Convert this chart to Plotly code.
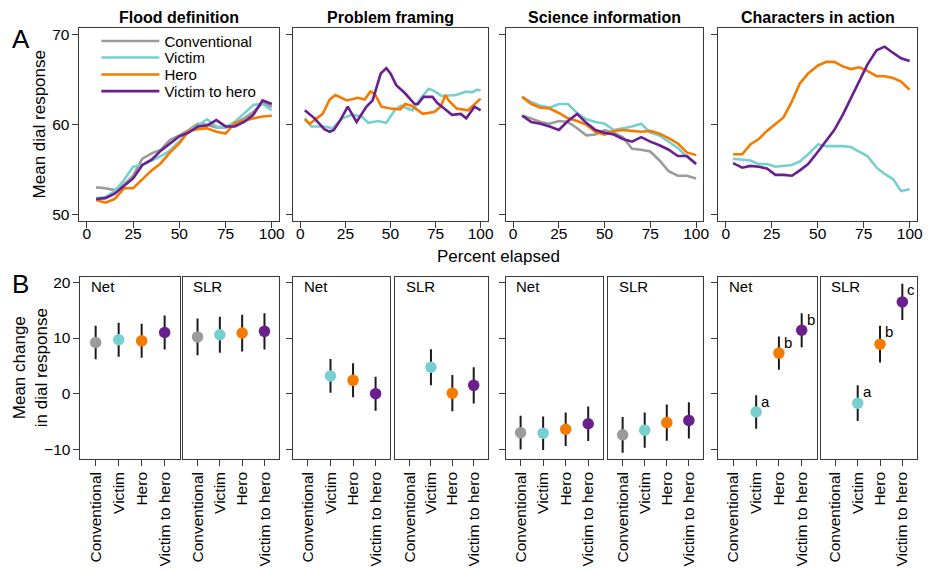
import plotly.graph_objects as go

W, H = 932, 571
FONT = "Liberation Sans, Arial, sans-serif"

series_names = ["Conventional", "Victim", "Hero", "Victim to hero"]
colors = ["#9b9b9b", "#77cfcf", "#f47b00", "#6a1f8e"]

panel_titles = ["Flood definition", "Problem framing", "Science information", "Characters in action"]

# ---- Panel A data (mean dial response vs percent elapsed) ----
fd_x = [5, 10, 15, 20, 25, 30, 35, 40, 45, 50, 55, 60, 65, 70, 75, 80, 85, 90, 95, 100]
fd_conv = [53.0, 52.9, 52.7, 53.3, 54.3, 56.2, 56.8, 57.2, 58.3, 58.8, 59.4, 60.1, 60.0, 59.7, 59.7, 60.1, 60.7, 61.4, 62.4, 62.0]
fd_victim = [51.8, 51.9, 52.6, 53.8, 55.3, 55.5, 56.0, 56.5, 57.1, 58.1, 59.2, 59.9, 60.6, 59.8, 59.7, 60.3, 61.2, 62.2, 62.3, 61.6]
fd_hero = [51.6, 51.3, 51.7, 52.9, 52.9, 53.9, 54.9, 55.7, 56.9, 57.9, 59.3, 59.5, 59.6, 59.2, 59.0, 60.2, 60.4, 60.7, 60.9, 61.0]
fd_vth = [51.7, 51.8, 52.3, 53.1, 54.0, 55.5, 56.1, 57.1, 57.9, 58.7, 59.1, 59.8, 59.9, 60.5, 59.8, 59.8, 60.3, 61.1, 62.7, 62.3]

pf_victim_x = [2.5, 6.1, 13.3, 17.9, 23.3, 28.7, 34.1, 37.7, 43.1, 47.7, 52.3, 55.9, 62.2, 66.7, 71.2, 73.9, 78.4, 86.5, 91.9, 95.2, 98.2, 100]
pf_victim = [60.7, 59.8, 59.8, 59.6, 60.7, 61.1, 60.9, 60.2, 60.4, 60.2, 61.6, 62.1, 61.6, 62.9, 64.0, 63.8, 63.2, 63.3, 63.7, 63.6, 63.9, 63.8]
pf_hero_x = [2.5, 5.2, 12.4, 16.3, 19.5, 25.8, 32, 35.7, 38.9, 41.4, 45, 50, 55.4, 58.1, 61.7, 67.9, 74.2, 77.8, 80.5, 82.2, 86.7, 93, 100]
pf_hero = [60.6, 60.1, 61.2, 62.8, 63.3, 62.7, 63.0, 62.8, 63.7, 63.4, 62.0, 61.8, 61.7, 62.3, 62.1, 61.2, 61.4, 62.0, 63.3, 62.7, 61.8, 61.6, 62.9]
pf_vth_x = [2.5, 7.9, 13.3, 16.3, 18.6, 22.2, 26.3, 31.2, 36.6, 40.1, 44.6, 47.7, 50, 53.2, 58.1, 63.4, 65.2, 68.3, 73.3, 76, 80.5, 84.1, 89, 92, 96.6, 100]
pf_vth = [61.6, 60.7, 59.5, 59.2, 59.4, 60.5, 62.0, 60.3, 62.0, 62.7, 65.7, 66.3, 65.7, 64.4, 63.5, 62.3, 62.3, 63.1, 63.1, 62.4, 61.7, 61.1, 61.2, 60.7, 62.0, 61.6]

si_x = [5, 10, 15, 20, 25, 30, 35, 40, 45, 50, 55, 60, 65, 70, 75, 80, 85, 90, 95, 100]
si_conv = [61.0, 60.7, 60.3, 60.1, 60.4, 60.3, 59.6, 58.8, 58.9, 59.4, 59.1, 58.6, 57.3, 57.2, 57.0, 56.0, 54.8, 54.3, 54.3, 54.0]
si_victim = [63.1, 62.5, 62.1, 61.9, 62.3, 62.3, 61.3, 60.6, 60.3, 60.1, 59.4, 59.6, 59.8, 60.1, 59.1, 58.8, 58.1, 57.4, 56.4, 55.6]
si_hero = [63.1, 62.3, 61.9, 61.8, 61.3, 60.7, 60.4, 60.0, 59.2, 58.9, 59.3, 59.4, 59.3, 59.2, 59.3, 59.0, 58.5, 57.9, 56.9, 56.6]
si_vth = [61.0, 60.3, 60.1, 59.8, 59.4, 60.4, 61.2, 60.2, 59.4, 59.1, 58.9, 58.4, 58.1, 58.6, 58.1, 57.7, 57.2, 56.5, 56.5, 55.6]

ca_x = [4, 9, 13.4, 18, 22.4, 27, 31.4, 36, 40.3, 44.8, 50.2, 54.7, 59, 63.6, 68, 72.6, 77, 82, 86.4, 91, 95.3, 100]
ca_victim = [56.2, 56.1, 56.0, 55.6, 55.6, 55.3, 55.4, 55.5, 55.9, 56.7, 57.8, 57.6, 57.6, 57.6, 57.5, 57.0, 56.5, 55.2, 54.5, 53.9, 52.6, 52.8]
ca_hero = [56.7, 56.7, 57.8, 58.4, 59.3, 60.1, 60.8, 62.6, 64.6, 65.7, 66.6, 67.0, 67.0, 66.5, 66.2, 66.4, 66.0, 65.4, 65.4, 65.2, 64.8, 63.9]
ca_vth = [55.7, 55.2, 55.4, 55.3, 55.1, 54.4, 54.4, 54.3, 54.9, 55.6, 57.0, 58.3, 59.4, 61.1, 63.0, 64.8, 66.7, 68.3, 68.7, 68.0, 67.4, 67.1]

# ---- Panel B data (mean change in dial response, +/- interval) ----
fd_net_mean = [9.2, 9.7, 9.5, 11.0]
fd_net_ci = [3.0, 3.05, 3.05, 3.05]
fd_slr_mean = [10.2, 10.6, 10.9, 11.2]
fd_slr_ci = [3.3, 3.25, 3.3, 3.25]
pf_net_mean = [None, 3.2, 2.4, 0.0]
pf_net_ci = [0, 3.05, 3.05, 3.05]
pf_slr_mean = [None, 4.75, 0.1, 1.5]
pf_slr_ci = [0, 3.25, 3.25, 3.25]
si_net_mean = [-7.0, -7.1, -6.4, -5.4]
si_net_ci = [3.05, 3.0, 3.0, 3.1]
si_slr_mean = [-7.4, -6.55, -5.2, -4.8]
si_slr_ci = [3.2, 3.15, 3.25, 3.25]
ca_net_mean = [None, -3.3, 7.3, 11.4]
ca_net_ci = [0, 3.0, 3.0, 3.05]
ca_slr_mean = [None, -1.7, 8.9, 16.5]
ca_slr_ci = [0, 3.2, 3.3, 3.25]
ca_net_letters = ["", "a", "b", "b"]
ca_slr_letters = ["", "a", "b", "c"]

# ---- layout geometry (pixels) ----
top_x = [(80, 281), (295, 491), (509, 708), (723, 923)]
top_y = (25, 220)
bot_x = [(81, 181), (184, 281), (295, 393), (398, 491), (509, 607), (612, 708), (723, 822), (826, 923)]
bot_y = (276, 459)
legend_rows_y = [38.5, 55.2, 72.2, 89.0]

def dx(a, b):
    return [a / W, b / W]

def dy(a, b):
    return [1 - b / H, 1 - a / H]

fig = go.Figure()
AX = "#3a3a3a"
legend_ids = ["legend", "legend2", "legend3", "legend4"]

top_data = [
    [(fd_x, fd_conv), (fd_x, fd_victim), (fd_x, fd_hero), (fd_x, fd_vth)],
    [None, (pf_victim_x, pf_victim), (pf_hero_x, pf_hero), (pf_vth_x, pf_vth)],
    [(si_x, si_conv), (si_x, si_victim), (si_x, si_hero), (si_x, si_vth)],
    [None, (ca_x, ca_victim), (ca_x, ca_hero), (ca_x, ca_vth)],
]

layout = dict(
    width=W, height=H, margin=dict(l=0, r=0, t=0, b=0),
    paper_bgcolor="white", plot_bgcolor="white",
    font=dict(family=FONT, size=15, color="black"),
    showlegend=True,
)
for j, lid in enumerate(legend_ids):
    layout[lid] = dict(x=97 / W, y=1 - legend_rows_y[j] / H, xanchor="left",
                       yanchor="middle", bgcolor="rgba(0,0,0,0)",
                       font=dict(size=15), itemwidth=58, borderwidth=0)

annotations = []
for i in range(4):
    n = i + 1
    for j in range(4):
        d = top_data[i][j]
        if d is None:
            continue
        fig.add_trace(go.Scatter(
            x=d[0], y=d[1], mode="lines", name=series_names[j],
            line=dict(color=colors[j], width=2.6),
            xaxis=f"x{n if n > 1 else ''}", yaxis=f"y{n if n > 1 else ''}",
            showlegend=(i == 0), legend=legend_ids[j]))
    suffix = "" if n == 1 else str(n)
    layout[f"xaxis{suffix}"] = dict(
        domain=dx(*top_x[i]), anchor=f"y{suffix}", range=[-4, 104],
        tickvals=[0, 25, 50, 75, 100], ticks="outside", ticklen=6, tickcolor=AX,
        showline=True, linecolor=AX, linewidth=1, mirror=True, showgrid=False,
        zeroline=False, tickfont=dict(size=15.5), ticklabelstandoff=-8)
    layout[f"yaxis{suffix}"] = dict(
        domain=dy(*top_y), anchor=f"x{suffix}", range=[49.2, 70.8],
        tickvals=[50, 60, 70], ticks="outside", ticklen=6, tickcolor=AX,
        showticklabels=(i == 0), showline=True, linecolor=AX, linewidth=1,
        mirror=True, showgrid=False, zeroline=False, tickfont=dict(size=15.5))
    annotations.append(dict(
        text=f"<b>{panel_titles[i]}</b>", x=(top_x[i][0] + top_x[i][1]) / 2 / W,
        y=1 - 15 / H, xref="paper", yref="paper", showarrow=False,
        font=dict(size=16), xanchor="center", yanchor="middle"))

bot_data = [
    (fd_net_mean, fd_net_ci, "Net", None), (fd_slr_mean, fd_slr_ci, "SLR", None),
    (pf_net_mean, pf_net_ci, "Net", None), (pf_slr_mean, pf_slr_ci, "SLR", None),
    (si_net_mean, si_net_ci, "Net", None), (si_slr_mean, si_slr_ci, "SLR", None),
    (ca_net_mean, ca_net_ci, "Net", ca_net_letters), (ca_slr_mean, ca_slr_ci, "SLR", ca_slr_letters),
]

for k, (means, cis, lab, letters) in enumerate(bot_data):
    n = 5 + k
    fig.add_trace(go.Scatter(
        x=series_names, y=means, mode="markers",
        marker=dict(color=colors, size=11.5, line=dict(width=0)),
        error_y=dict(type="data", array=cis, visible=True, color="#1a1a1a",
                     thickness=2, width=0),
        xaxis=f"x{n}", yaxis=f"y{n}", showlegend=False))
    layout[f"xaxis{n}"] = dict(
        domain=dx(*bot_x[k]), anchor=f"y{n}", type="category",
        categoryorder="array", categoryarray=series_names, range=[-0.66, 3.66],
        ticks="outside", ticklen=6, tickcolor=AX, tickangle=-90,
        showline=True, linecolor=AX, linewidth=1, mirror=True, showgrid=False,
        zeroline=False, tickfont=dict(size=15.5))
    layout[f"yaxis{n}"] = dict(
        domain=dy(*bot_y), anchor=f"x{n}", range=[-11.7, 20.96],
        tickvals=[-10, 0, 10, 20], ticks=("outside" if k % 2 == 0 else ""),
        ticklen=6, tickcolor=AX, showticklabels=(k == 0), showline=True,
        linecolor=AX, linewidth=1, mirror=True, showgrid=False, zeroline=False,
        tickfont=dict(size=15.5))
    annotations.append(dict(
        text=lab, x=0.09, y=1 - 10 / (bot_y[1] - bot_y[0]), xref=f"x{n} domain",
        yref=f"y{n} domain", showarrow=False, xanchor="left", yanchor="middle",
        font=dict(size=15)))
    if letters:
        for c, m, e, t in zip(series_names, means, cis, letters):
            if t and m is not None:
                annotations.append(dict(
                    text=t, x=c, y=m + e, xref=f"x{n}", yref=f"y{n}",
                    showarrow=False, xanchor="left", yanchor="middle",
                    xshift=3, yshift=-6, font=dict(size=15)))

# axis titles and panel letters
annotations += [
    dict(text="Percent elapsed", x=(80 + 923) / 2 / W, y=1 - 255 / H, xref="paper",
         yref="paper", showarrow=False, font=dict(size=17), xanchor="center", yanchor="middle"),
    dict(text="Mean dial response", x=40 / W, y=1 - 122.5 / H, xref="paper", yref="paper",
         showarrow=False, textangle=-90, font=dict(size=17), xanchor="center", yanchor="middle"),
    dict(text="Mean change<br>in dial response", x=31 / W, y=1 - 367 / H, xref="paper",
         yref="paper", showarrow=False, textangle=-90, font=dict(size=17),
         xanchor="center", yanchor="middle"),
    dict(text="A", x=21 / W, y=1 - 36 / H, xref="paper", yref="paper", showarrow=False,
         font=dict(size=26), xanchor="center", yanchor="middle"),
    dict(text="B", x=21 / W, y=1 - 283 / H, xref="paper", yref="paper", showarrow=False,
         font=dict(size=26), xanchor="center", yanchor="middle"),
]
layout["annotations"] = annotations
fig.update_layout(**layout)
fig.write_html("out.html")
